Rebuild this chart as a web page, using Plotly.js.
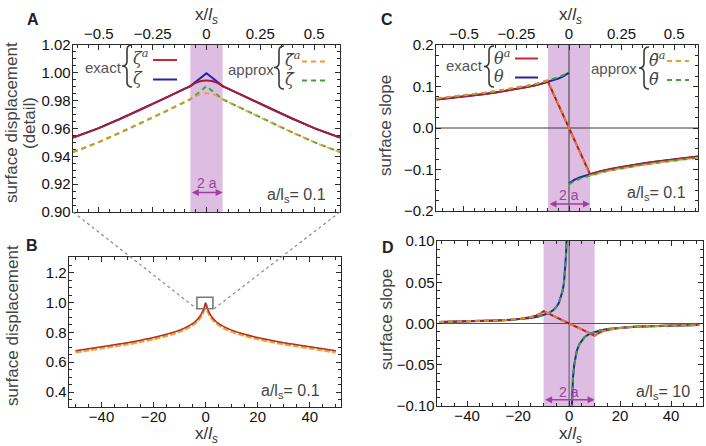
<!DOCTYPE html>
<html>
<head>
<meta charset="utf-8">
<script src="https://cdn.plot.ly/plotly-3.0.1.min.js"></script>
<style>
  html, body { margin: 0; padding: 0; background: #ffffff; }
  #chart { width: 706px; height: 446px; }
</style>
</head>
<body>
<div id="chart"></div>
<script>
// ---------- Panel A: surface displacement near the load (a/ls = 0.1) ----------
const aX = [-0.62,-0.5,-0.4,-0.3,-0.2,-0.1,-0.075,-0.05,-0.025,0,0.025,0.05,0.075,0.1,0.2,0.3,0.4,0.5,0.62];
const zetaExactA  = [0.9535,0.9603,0.9670,0.9740,0.9813,0.9887,0.9905,0.9935,0.9966,0.9997,0.9966,0.9935,0.9905,0.9887,0.9813,0.9740,0.9670,0.9603,0.9535];
const zetaAExactA = [0.9535,0.9603,0.9670,0.9740,0.9813,0.9887,0.9905,0.9928,0.9941,0.9945,0.9941,0.9928,0.9905,0.9887,0.9813,0.9740,0.9670,0.9603,0.9535];
const zetaApproxA  = [0.9430,0.9502,0.9571,0.9642,0.9716,0.9791,0.9810,0.9840,0.9872,0.9905,0.9872,0.9840,0.9810,0.9791,0.9716,0.9642,0.9571,0.9502,0.9430];
const zetaAApproxA = [0.9430,0.9502,0.9571,0.9642,0.9716,0.9791,0.9810,0.9833,0.9848,0.9853,0.9848,0.9833,0.9810,0.9791,0.9716,0.9642,0.9571,0.9502,0.9430];

// ---------- Panel B: surface displacement, full range (a/ls = 0.1) ----------
const bX = [-50,-45,-40,-35,-30,-25,-20,-15,-10,-8,-6,-4,-3,-2,-1.5,-1,-0.5,0,0.5,1,1.5,2,3,4,6,8,10,15,20,25,30,35,40,45,50];
const zetaExactB  = [0.677,0.690,0.703,0.717,0.731,0.747,0.765,0.787,0.815,0.830,0.848,0.873,0.890,0.912,0.927,0.945,0.968,0.998,0.968,0.945,0.927,0.912,0.890,0.873,0.848,0.830,0.815,0.787,0.765,0.747,0.731,0.717,0.703,0.690,0.677];
const zetaApproxB = [0.669,0.682,0.695,0.709,0.723,0.739,0.757,0.779,0.807,0.822,0.840,0.865,0.882,0.904,0.919,0.937,0.960,0.988,0.960,0.937,0.919,0.904,0.882,0.865,0.840,0.822,0.807,0.779,0.757,0.739,0.723,0.709,0.695,0.682,0.669];

// ---------- Panel C: surface slope near the load (a/ls = 0.1) ----------
const cXa = [-0.63,-0.55,-0.5,-0.45,-0.4,-0.35,-0.3,-0.25,-0.2,-0.15,-0.125,-0.1,0,0.1,0.125,0.15,0.2,0.25,0.3,0.35,0.4,0.45,0.5,0.55,0.62];
const thetaAExactC  = [0.0685,0.0728,0.0757,0.0788,0.0822,0.0858,0.0897,0.0940,0.0987,0.1040,0.1075,0.1115,0,-0.1115,-0.1075,-0.1040,-0.0987,-0.0940,-0.0897,-0.0858,-0.0822,-0.0788,-0.0757,-0.0728,-0.0685];
const thetaAApproxC = [0.0712,0.0755,0.0785,0.0816,0.0851,0.0888,0.0928,0.0971,0.1019,0.1073,0.1109,0.1148,0,-0.1148,-0.1109,-0.1073,-0.1019,-0.0971,-0.0928,-0.0888,-0.0851,-0.0816,-0.0785,-0.0755,-0.0712];
const cXp = [-0.63,-0.55,-0.5,-0.45,-0.4,-0.35,-0.3,-0.25,-0.2,-0.15,-0.125,-0.1,-0.075,-0.05,-0.025,0,0,0,0.025,0.05,0.075,0.1,0.125,0.15,0.2,0.25,0.3,0.35,0.4,0.45,0.5,0.55,0.62];
const thetaExactC  = [0.0685,0.0728,0.0757,0.0788,0.0822,0.0858,0.0897,0.0940,0.0987,0.1040,0.1075,0.1115,0.1150,0.1192,0.1250,0.1335,null,-0.1335,-0.1250,-0.1192,-0.1150,-0.1115,-0.1075,-0.1040,-0.0987,-0.0940,-0.0897,-0.0858,-0.0822,-0.0788,-0.0757,-0.0728,-0.0685];
const thetaApproxC = [0.0712,0.0755,0.0785,0.0816,0.0851,0.0888,0.0928,0.0971,0.1019,0.1073,0.1109,0.1148,0.1185,0.1225,0.1280,0.1360,null,-0.1360,-0.1280,-0.1225,-0.1185,-0.1148,-0.1109,-0.1073,-0.1019,-0.0971,-0.0928,-0.0888,-0.0851,-0.0816,-0.0785,-0.0755,-0.0712];

// ---------- Panel D: surface slope, full range (a/ls = 10) ----------
const dXa = [-51,-45,-40,-35,-30,-25,-20,-17,-15,-13,-12,-11,-10,-5,0,5,10,11,12,13,15,17,20,25,30,35,40,45,51];
const thetaAExactD  = [0.0017,0.0021,0.0024,0.0028,0.0033,0.0041,0.0053,0.0065,0.0078,0.0095,0.0108,0.0126,0.0150,0.0072,0,-0.0072,-0.0150,-0.0126,-0.0108,-0.0095,-0.0078,-0.0065,-0.0053,-0.0041,-0.0033,-0.0028,-0.0024,-0.0021,-0.0017];
const thetaAApproxD = [0.0018,0.0022,0.0025,0.0029,0.0034,0.0042,0.0054,0.0066,0.0079,0.0096,0.0110,0.0128,0.0152,0.0073,0,-0.0073,-0.0152,-0.0128,-0.0110,-0.0096,-0.0079,-0.0066,-0.0054,-0.0042,-0.0034,-0.0029,-0.0025,-0.0022,-0.0018];
const dXp = [-51,-45,-40,-35,-30,-25,-20,-15,-12,-10,-8,-6,-5,-4,-3,-2.5,-2,-1.5,-1.2,-1,-0.8,0,0.8,1,1.2,1.5,2,2.5,3,4,5,6,8,10,12,15,20,25,30,35,40,45,51];
const thetaExactD  = [0.0018,0.0021,0.0024,0.0028,0.0033,0.0040,0.0050,0.0067,0.0084,0.0100,0.0125,0.0167,0.0200,0.0250,0.0333,0.0400,0.0500,0.0667,0.0833,0.1000,0.1250,null,-0.1250,-0.1000,-0.0833,-0.0667,-0.0500,-0.0400,-0.0333,-0.0250,-0.0200,-0.0167,-0.0125,-0.0100,-0.0084,-0.0067,-0.0050,-0.0040,-0.0033,-0.0028,-0.0024,-0.0021,-0.0018];
const thetaApproxD = [0.0019,0.0022,0.0025,0.0029,0.0034,0.0041,0.0051,0.0068,0.0085,0.0102,0.0127,0.0169,0.0203,0.0253,0.0337,0.0404,0.0505,0.0673,0.0840,0.1008,0.1260,null,-0.1260,-0.1008,-0.0840,-0.0673,-0.0505,-0.0404,-0.0337,-0.0253,-0.0203,-0.0169,-0.0127,-0.0102,-0.0085,-0.0068,-0.0051,-0.0041,-0.0034,-0.0029,-0.0025,-0.0022,-0.0019];

// tick labels of the top axes
const topTickVals = [-0.5, -0.25, 0, 0.25, 0.5];
const topTickText = ['\u22120.5', '\u22120.25', '0', '0.25', '0.5'];

// ---------- styling ----------
const W = 706, H = 446;
const FONT = 'Liberation Sans, Arial, Helvetica, sans-serif';
const SERIF = 'DejaVu Serif, Liberation Serif, serif';
const RED = '#A91C36', BLUE = '#2024A8', ORANGE = 'rgba(244,150,38,0.80)', GREEN = '#3AA63A';
const RED_KEY = '#C42A30', ORANGE_KEY = '#F39A2E';
const PURPLE = '#A23DA6', BAND = '#DDBDE1', FRAME = '#2a2a2a';
const DASH = '5px,4px';

const px = v => v / W;
const py = v => 1 - v / H;

function line(x, y, color, ax, ay, dash, width, shape) {
  return { x: x, y: y, type: 'scatter', mode: 'lines', xaxis: ax, yaxis: ay,
           line: { color: color, width: width || 2, dash: dash || 'solid', shape: shape || 'linear', smoothing: 0.8 },
           hoverinfo: 'skip', connectgaps: false };
}

const traces = [
  // A
  line(aX, zetaExactA, BLUE, 'x', 'y'),
  line(aX, zetaAExactA, RED, 'x', 'y', 'solid', 2, 'spline'),
  line(aX, zetaApproxA, GREEN, 'x', 'y', DASH),
  line(aX, zetaAApproxA, ORANGE, 'x', 'y', DASH, 2, 'spline'),
  // B
  line(bX, zetaApproxB, '#EFA43A', 'x2', 'y2', '6px,2px', 3.2, 'spline'),
  line(bX, zetaExactB, '#B0302A', 'x2', 'y2', 'solid', 1.5, 'spline'),
  // C
  line(cXp, thetaExactC, BLUE, 'x3', 'y3'),
  line(cXa, thetaAExactC, RED, 'x3', 'y3'),
  line(cXp, thetaApproxC, GREEN, 'x3', 'y3', DASH),
  line(cXa, thetaAApproxC, ORANGE, 'x3', 'y3', DASH),
  // D
  line(dXp, thetaExactD, BLUE, 'x4', 'y4'),
  line(dXa, thetaAExactD, RED, 'x4', 'y4'),
  line(dXp, thetaApproxD, GREEN, 'x4', 'y4', DASH),
  line(dXa, thetaAApproxD, ORANGE, 'x4', 'y4', DASH)
];

function axis(extra) {
  return Object.assign({
    showgrid: false, zeroline: false, showline: true, linecolor: FRAME, linewidth: 1.3,
    mirror: 'ticks', ticks: 'inside', ticklen: 5, tickwidth: 1, tickcolor: FRAME,
    tickfont: { family: FONT, size: 15, color: '#111' }, fixedrange: true
  }, extra);
}

const layout = {
  width: W, height: H, margin: { l: 0, r: 0, t: 0, b: 0 },
  paper_bgcolor: '#ffffff', plot_bgcolor: '#ffffff', showlegend: false,
  font: { family: FONT },
  xaxis:  axis({ domain: [px(73), px(340)], range: [-0.62, 0.62], side: 'top', anchor: 'y',
                 tickvals: topTickVals, ticktext: topTickText, ticklabelstandoff: -1,
                 minor: { ticks: 'inside', ticklen: 3, dtick: 0.05, tickcolor: FRAME } }),
  yaxis:  axis({ domain: [py(212), py(45)], range: [0.90, 1.02], dtick: 0.02, tickformat: '.2f', anchor: 'x',
                 ticklabelstandoff: -2,
                 minor: { ticks: 'inside', ticklen: 3, dtick: 0.005, tickcolor: FRAME } }),
  xaxis2: axis({ domain: [px(69), px(341)], range: [-52.5, 52], dtick: 20, anchor: 'y2', ticklabelstandoff: -4,
                 minor: { ticks: 'inside', ticklen: 3, dtick: 5, tickcolor: FRAME } }),
  yaxis2: axis({ domain: [py(407), py(257)], range: [0.30, 1.305], tickvals: [0.4, 0.6, 0.8, 1.0, 1.2], tickformat: '.1f', anchor: 'x2',
                 ticklabelstandoff: -2,
                 minor: { ticks: 'inside', ticklen: 3, dtick: 0.05, tickcolor: FRAME } }),
  xaxis3: axis({ domain: [px(436), px(698)], range: [-0.633, 0.614], side: 'top', anchor: 'y3',
                 tickvals: topTickVals, ticktext: topTickText, ticklabelstandoff: -1,
                 minor: { ticks: 'inside', ticklen: 3, dtick: 0.05, tickcolor: FRAME } }),
  yaxis3: axis({ domain: [py(211), py(45)], range: [-0.2, 0.2], dtick: 0.1, tickformat: '.1f', anchor: 'x3',
                 ticklabelstandoff: -2,
                 minor: { ticks: 'inside', ticklen: 3, dtick: 0.025, tickcolor: FRAME } }),
  xaxis4: axis({ domain: [px(437), px(703)], range: [-51.8, 52.5], dtick: 20, anchor: 'y4', ticklabelstandoff: -4,
                 minor: { ticks: 'inside', ticklen: 3, dtick: 5, tickcolor: FRAME } }),
  yaxis4: axis({ domain: [py(406), py(241)], range: [-0.1, 0.1], dtick: 0.05, tickformat: '.2f', anchor: 'x4',
                 ticklabelstandoff: -2,
                 minor: { ticks: 'inside', ticklen: 3, dtick: 0.01, tickcolor: FRAME } }),
  shapes: [],
  annotations: []
};

// shaded load regions (width 2a)
[['x', 'y', 0.075], ['x3', 'y3', 0.1], ['x4', 'y4', 10]].forEach(([xa, ya, half]) => {
  layout.shapes.push({ type: 'rect', xref: xa, yref: ya + ' domain', x0: -half, x1: half, y0: 0, y1: 1,
                       fillcolor: BAND, line: { width: 0 }, layer: 'below' });
});
// axes through the origin in the slope panels
[['x3', 'y3', '#3a3a3a'], ['x4', 'y4', '#555555']].forEach(([xa, ya, c]) => {
  layout.shapes.push({ type: 'line', xref: xa, yref: ya + ' domain', x0: 0, x1: 0, y0: 0, y1: 1,
                       line: { color: c, width: 1 }, layer: 'below' });
  layout.shapes.push({ type: 'line', xref: xa + ' domain', yref: ya, x0: 0, x1: 1, y0: 0, y1: 0,
                       line: { color: c, width: 1 }, layer: 'below' });
});
// zoom box in B and the guide lines to panel A
layout.shapes.push({ type: 'rect', xref: 'x2', yref: 'y2', x0: -3.35, x1: 2.8, y0: 0.958, y1: 1.035,
                     line: { color: '#7a7a7a', width: 1.6 } });
layout.shapes.push({ type: 'line', xref: 'paper', yref: 'paper', x0: px(73), y0: py(212), x1: px(197.3), y1: py(309.3),
                     line: { color: '#8a8a8a', width: 1.2, dash: 'dot' } });
layout.shapes.push({ type: 'line', xref: 'paper', yref: 'paper', x0: px(340), y0: py(212), x1: px(213.3), y1: py(309.3),
                     line: { color: '#8a8a8a', width: 1.2, dash: 'dot' } });

// legend key lines
function keyLine(x0, x1, y, color, dash) {
  layout.shapes.push({ type: 'line', xref: 'paper', yref: 'paper', x0: px(x0), x1: px(x1), y0: py(y), y1: py(y),
                       line: { color: color, width: 2, dash: dash || 'solid' } });
}
keyLine(153, 177, 60, RED_KEY);  keyLine(153, 177, 79.5, BLUE);
keyLine(302, 327, 61.5, ORANGE_KEY, DASH); keyLine(302, 327, 80.5, GREEN, DASH);
keyLine(515, 538, 58.5, RED_KEY); keyLine(515, 538, 77.5, BLUE);
keyLine(667, 689, 61, ORANGE_KEY, DASH); keyLine(667, 689, 80, GREEN, DASH);

// curly braces grouping the legend entries
function brace(cx, y0, y1) {
  const ym = (y0 + y1) / 2, w = 5, r = 5;
  const P = (x, y) => px(x).toFixed(5) + ',' + py(y).toFixed(5);
  const path = 'M' + P(cx + w, y0) + ' Q' + P(cx, y0) + ' ' + P(cx, y0 + r) +
               ' L' + P(cx, ym - r) + ' Q' + P(cx, ym) + ' ' + P(cx - w, ym) +
               ' Q' + P(cx, ym) + ' ' + P(cx, ym + r) +
               ' L' + P(cx, y1 - r) + ' Q' + P(cx, y1) + ' ' + P(cx + w, y1);
  layout.shapes.push({ type: 'path', xref: 'paper', yref: 'paper', path: path,
                       line: { color: '#3a3a3a', width: 1.6 } });
}
brace(127, 45, 87); brace(279, 46, 89); brace(489, 46, 87); brace(644, 47, 89);

// ---------- text ----------
function txt(text, x, y, o) {
  o = o || {};
  layout.annotations.push({
    text: text, x: px(x), y: py(y), xref: 'paper', yref: 'paper', showarrow: false,
    xanchor: o.xanchor || 'center', yanchor: 'middle', textangle: o.angle || 0,
    font: { family: o.family || FONT, size: o.size || 15, color: o.color || '#333' }
  });
}
// panel letters
txt('<b>A</b>', 33, 19, { size: 16, color: '#222' });
txt('<b>B</b>', 32, 245, { size: 16, color: '#222' });
txt('<b>C</b>', 387, 19, { size: 16, color: '#222' });
txt('<b>D</b>', 388, 247, { size: 16, color: '#222' });
// axis titles
const XT = 'x/<i>l<sub>s</sub></i>';
txt(XT, 206, 16, { size: 17, color: '#333' });
txt(XT, 570, 16, { size: 17, color: '#333' });
txt(XT, 206, 435, { size: 17, color: '#333' });
txt(XT, 570, 435, { size: 17, color: '#333' });
txt('surface displacement', 11, 123, { angle: -90, size: 17, color: '#444' });
txt('(detail)', 29, 123, { angle: -90, size: 17, color: '#444' });
txt('surface displacement', 12, 326, { angle: -90, size: 17, color: '#444' });
txt('surface slope', 386, 126, { angle: -90, size: 17, color: '#444' });
txt('surface slope', 386, 320, { angle: -90, size: 17, color: '#444' });
// parameter labels
txt('a/l<sub>s</sub>= 0.1', 328, 195, { xanchor: 'right', size: 16, color: '#444' });
txt('a/l<sub>s</sub>= 0.1', 322, 391, { xanchor: 'right', size: 16, color: '#444' });
txt('a/l<sub>s</sub>= 0.1', 688, 193, { xanchor: 'right', size: 16, color: '#444' });
txt('a/l<sub>s</sub>= 10', 692, 392, { xanchor: 'right', size: 16, color: '#444' });
// legends
const SYM = { xanchor: 'left', family: SERIF, size: 16, color: '#444' };
txt('exact', 103, 67, { size: 15, color: '#555' });
txt('<i>\u03B6</i><sup><i>a</i></sup>', 131, 57, SYM);
txt('<i>\u03B6</i>', 131, 78, SYM);
txt('approx', 251, 69, { size: 15, color: '#555' });
txt('<i>\u03B6\u0303</i><sup><i>a</i></sup>', 283, 59, SYM);
txt('<i>\u03B6\u0303</i>', 283, 80, SYM);
txt('exact', 464, 66, { size: 15, color: '#555' });
txt('<i>\u03B8</i><sup><i>a</i></sup>', 492, 57, SYM);
txt('<i>\u03B8</i>', 492, 77, SYM);
txt('approx', 614, 68, { size: 15, color: '#555' });
txt('<i>\u03B8\u0303</i><sup><i>a</i></sup>', 647, 59, SYM);
txt('<i>\u03B8\u0303</i>', 647, 80, SYM);

// "2 a" width markers
function widthMark(xa, ya, half, yArrow, yText) {
  layout.annotations.push({ xref: xa, yref: ya, axref: xa, ayref: ya, x: half, y: yArrow, ax: -half, ay: yArrow,
                            text: '', showarrow: true, arrowside: 'end+start', arrowhead: 2, arrowsize: 1,
                            arrowwidth: 1.4, arrowcolor: PURPLE });
  layout.annotations.push({ xref: xa, yref: ya, x: 0, y: yText, text: '2 a', showarrow: false,
                            xanchor: 'center', yanchor: 'middle', font: { family: FONT, size: 14, color: PURPLE } });
}
widthMark('x', 'y', 0.075, 0.914, 0.9205);
widthMark('x3', 'y3', 0.1, -0.183, -0.162);
widthMark('x4', 'y4', 10, -0.0925, -0.083);

Plotly.newPlot('chart', traces, layout, { staticPlot: true, displayModeBar: false });
</script>
</body>
</html>
